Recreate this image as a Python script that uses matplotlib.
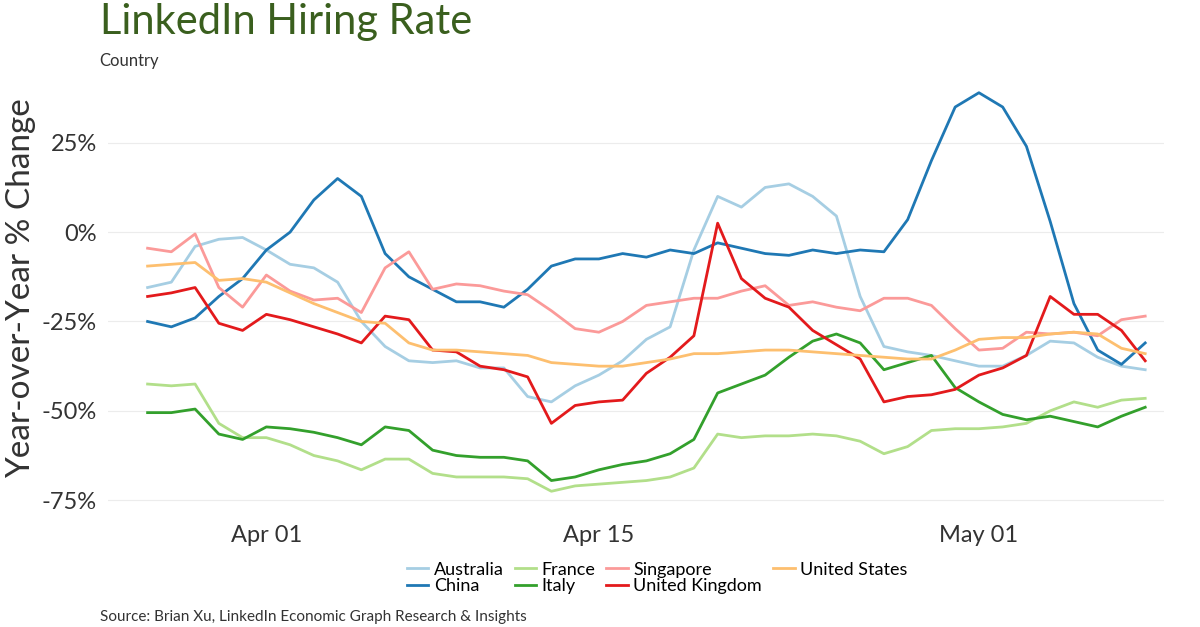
import numpy as np
import pandas as pd
import matplotlib
matplotlib.use("Agg")
import matplotlib.pyplot as plt
import matplotlib.dates as mdates
from matplotlib.ticker import FuncFormatter

plt.rcParams['font.family'] = ['Lato', 'DejaVu Sans']

dates = pd.date_range("2020-03-27", "2020-05-08", freq="D")

australia = [-15.5, -14, -4, -2, -1.5, -5, -9, -10, -14, -25, -32, -36, -36.5, -36, -38, -38, -46, -47.5, -43, -40, -36, -30, -26.5, -5, 10, 7, 12.5, 13.5, 10, 4.5, -18, -32, -33.5, -34.5, -36, -37.5, -37.5, -34.5, -30.5, -31, -35, -37.5, -38.5]
china = [-25, -26.5, -24, -18, -13, -5, 0, 9, 15, 10, -6, -12.5, -16, -19.5, -19.5, -21, -16, -9.5, -7.5, -7.5, -6, -7, -5, -6, -3, -4.5, -6, -6.5, -5, -6, -5, -5.5, 3.5, 20, 35, 39, 35, 24, 3, -20, -33, -37, -31]
france = [-42.5, -43, -42.5, -53.5, -57.5, -57.5, -59.5, -62.5, -64, -66.5, -63.5, -63.5, -67.5, -68.5, -68.5, -68.5, -69, -72.5, -71, -70.5, -70, -69.5, -68.5, -66, -56.5, -57.5, -57, -57, -56.5, -57, -58.5, -62, -60, -55.5, -55, -55, -54.5, -53.5, -50, -47.5, -49, -47, -46.5]
italy = [-50.5, -50.5, -49.5, -56.5, -58, -54.5, -55, -56, -57.5, -59.5, -54.5, -55.5, -61, -62.5, -63, -63, -64, -69.5, -68.5, -66.5, -65, -64, -62, -58, -45, -42.5, -40, -35, -30.5, -28.5, -31, -38.5, -36.5, -34.5, -43.5, -47.5, -51, -52.5, -51.5, -53, -54.5, -51.5, -49]
singapore = [-4.5, -5.5, -0.5, -15.5, -21, -12, -16.5, -19, -18.5, -22.5, -10, -5.5, -16, -14.5, -15, -16.5, -17.5, -22, -27, -28, -25, -20.5, -19.5, -18.5, -18.5, -16.5, -15, -20.5, -19.5, -21, -22, -18.5, -18.5, -20.5, -27, -33, -32.5, -28, -28.5, -28, -29, -24.5, -23.5]
uk = [-18, -17, -15.5, -25.5, -27.5, -23, -24.5, -26.5, -28.5, -31, -23.5, -24.5, -33, -33.5, -37.5, -38.5, -40.5, -53.5, -48.5, -47.5, -47, -39.5, -35, -29, 2.5, -13, -18.5, -21, -27.5, -31.5, -35.5, -47.5, -46, -45.5, -44, -40, -38, -34.5, -18, -23, -23, -27.5, -36]
us = [-9.5, -9, -8.5, -13.5, -13, -14, -17, -20, -22.5, -25, -25.5, -31, -33, -33, -33.5, -34, -34.5, -36.5, -37, -37.5, -37.5, -36.5, -35.5, -34, -34, -33.5, -33, -33, -33.5, -34, -34.5, -35, -35.5, -35.5, -33, -30, -29.5, -29.5, -28.5, -28, -28.5, -32.5, -34]

series = [
    ("Australia", australia, "#a6cee3"),
    ("China", china, "#1f78b4"),
    ("France", france, "#b2df8a"),
    ("Italy", italy, "#33a02c"),
    ("Singapore", singapore, "#fb9a99"),
    ("United Kingdom", uk, "#e31a1c"),
    ("United States", us, "#fdbf6f"),
]

fig = plt.figure(figsize=(12, 6.27), dpi=100)
ax = fig.add_axes([0.09, 0.18, 0.88, 0.72])

for name, vals, col in series:
    ax.plot(dates, vals, color=col, lw=2, label=name)

ax.set_ylim(-78.9, 47.4)
ax.set_yticks([-75, -50, -25, 0, 25])
ax.yaxis.set_major_formatter(FuncFormatter(lambda v, p: f"{int(v)}%"))
ax.set_xlim(dates[0] - pd.Timedelta(hours=40), dates[-1] + pd.Timedelta(hours=19))
ax.set_xticks(pd.to_datetime(["2020-04-01", "2020-04-15", "2020-05-01"]))
ax.xaxis.set_major_formatter(mdates.DateFormatter("%b %d"))
ax.grid(axis='y', color='#ececec', lw=0.8)
for s in ax.spines.values():
    s.set_visible(False)
ax.tick_params(length=0, labelsize=17, colors='#333333', pad=8)
ax.set_ylabel("Year-over-Year % Change", fontsize=24, color='#333333')

fig.text(0.083, 0.995, "LinkedIn Hiring Rate", fontsize=30, color='#3a5f1e', va='top')
fig.text(0.083, 0.895, "Country", fontsize=12, color='#333333')
fig.text(0.083, 0.01, "Source: Brian Xu, LinkedIn Economic Graph Research & Insights", fontsize=11, color='#333333')

ax.legend(loc='upper center', bbox_to_anchor=(0.52, -0.085), ncol=4, frameon=False,
          fontsize=13, handlelength=1.2, labelspacing=0.05, columnspacing=0.6,
          handletextpad=0.3, borderpad=0)

fig.savefig("out.png", dpi=100)
